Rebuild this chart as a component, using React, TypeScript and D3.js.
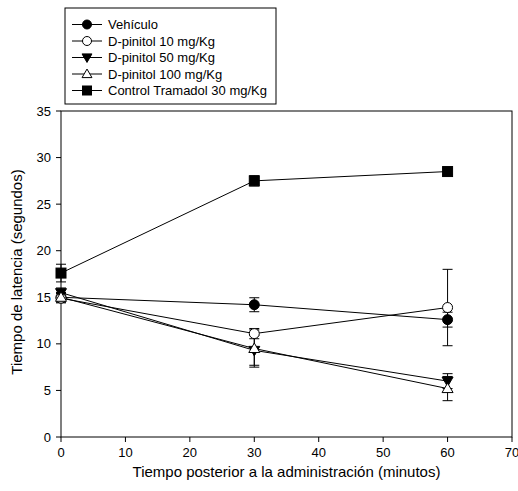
import React from "react";
import * as d3 from "d3";

const times = [0, 30, 60];
const seriesNames = [
  "Vehículo",
  "D-pinitol 10 mg/Kg",
  "D-pinitol 50 mg/Kg",
  "D-pinitol 100 mg/Kg",
  "Control Tramadol 30 mg/Kg",
];
const seriesMarkers = ["circleFilled", "circleOpen", "triDownFilled", "triUpOpen", "squareFilled"];
const vehiculo = [15.0, 14.2, 12.6];
const vehiculoErr = [0.5, 0.75, 0.8];
const pin10 = [14.9, 11.1, 13.9];
const pin10Err = [0.5, 0.55, 4.1];
const pin50 = [15.5, 9.3, 6.0];
const pin50Err = [0.5, 1.6, 0.8];
const pin100 = [15.0, 9.5, 5.2];
const pin100Err = [0.5, 2.0, 1.3];
const tramadol = [17.6, 27.5, 28.5];
const tramadolErr = [0.95, 0.55, 0.3];
const seriesValues = [vehiculo, pin10, pin50, pin100, tramadol];
const seriesErrors = [vehiculoErr, pin10Err, pin50Err, pin100Err, tramadolErr];
const xTicks = [0, 10, 20, 30, 40, 50, 60, 70];
const yTicks = [0, 5, 10, 15, 20, 25, 30, 35];

const FONT = "'Liberation Sans', Arial, sans-serif";

function Marker({ type, x, y, s = 5 }: { type: string; x: number; y: number; s?: number }) {
  if (type === "circleFilled") return <circle cx={x} cy={y} r={s} fill="#000" stroke="#000" strokeWidth={1} />;
  if (type === "circleOpen") return <circle cx={x} cy={y} r={s} fill="#fff" stroke="#000" strokeWidth={1} />;
  if (type === "squareFilled")
    return <rect x={x - s} y={y - s} width={2 * s} height={2 * s} fill="#000" stroke="#000" strokeWidth={1} />;
  if (type === "triDownFilled") {
    const p = `${x - s * 1.1},${y - s * 0.8} ${x + s * 1.1},${y - s * 0.8} ${x},${y + s * 1.1}`;
    return <polygon points={p} fill="#000" stroke="#000" strokeWidth={1} />;
  }
  const p = `${x - s * 1.1},${y + s * 0.8} ${x + s * 1.1},${y + s * 0.8} ${x},${y - s * 1.1}`;
  return <polygon points={p} fill="#fff" stroke="#000" strokeWidth={1} />;
}

export default function App() {
  const W = 518, H = 491;
  const left = 61, right = 512, top = 111, bottom = 437;
  const x = d3.scaleLinear().domain([0, 70]).range([left, right]);
  const y = d3.scaleLinear().domain([0, 35]).range([bottom, top]);
  const line = d3.line<number>().x((_, i) => x(times[i])).y((d) => y(d));
  const drawOrder = [0, 1, 2, 3, 4];
  return (
    <svg width={W} height={H} style={{ position: "absolute", left: 0, top: 0 }} fontFamily={FONT}>
      <rect width={W} height={H} fill="#fff" />
      {/* frame */}
      <rect x={left} y={top} width={right - left} height={bottom - top} fill="none" stroke="#000" strokeWidth={1} />
      {xTicks.map((t) => (
        <g key={"x" + t}>
          <line x1={x(t)} x2={x(t)} y1={bottom} y2={bottom + 5} stroke="#000" />
          <text x={x(t)} y={bottom + 20} fontSize={13} textAnchor="middle" fill="#000">{t}</text>
        </g>
      ))}
      {yTicks.map((t) => (
        <g key={"y" + t}>
          <line x1={left - 5} x2={left} y1={y(t)} y2={y(t)} stroke="#000" />
          <text x={left - 10} y={y(t) + 4.5} fontSize={13} textAnchor="end" fill="#000">{t}</text>
        </g>
      ))}
      <text x={(left + right) / 2 - 0} y={477} fontSize={15} textAnchor="middle" fill="#000">
        Tiempo posterior a la administración (minutos)
      </text>
      <text transform={`translate(22,${272}) rotate(-90)`} fontSize={15} textAnchor="middle" fill="#000">
        Tiempo de latencia (segundos)
      </text>
      {/* lines */}
      {drawOrder.map((si) => (
        <path key={"l" + si} d={line(seriesValues[si]) || ""} fill="none" stroke="#000" strokeWidth={1} />
      ))}
      {/* error bars */}
      {drawOrder.map((si) =>
        seriesValues[si].map((v, i) => {
          const e = seriesErrors[si][i];
          const cx = x(times[i]);
          return (
            <g key={`e${si}-${i}`} stroke="#000" strokeWidth={1}>
              <line x1={cx} x2={cx} y1={y(v - e)} y2={y(v + e)} />
              <line x1={cx - 5} x2={cx + 5} y1={y(v - e)} y2={y(v - e)} />
              <line x1={cx - 5} x2={cx + 5} y1={y(v + e)} y2={y(v + e)} />
            </g>
          );
        })
      )}
      {/* markers */}
      {drawOrder.map((si) =>
        seriesValues[si].map((v, i) => (
          <Marker key={`m${si}-${i}`} type={seriesMarkers[si]} x={x(times[i])} y={y(v)} />
        ))
      )}
      {/* legend */}
      <rect x={65} y={8} width={211} height={96} fill="#fff" stroke="#000" strokeWidth={1} />
      {seriesNames.map((n, i) => {
        const ly = 24.5 + i * 16.5;
        return (
          <g key={"lg" + i}>
            <line x1={72} x2={102} y1={ly} y2={ly} stroke="#000" />
            <Marker type={seriesMarkers[i]} x={87} y={ly} s={4.5} />
            <text x={108} y={ly + 4.5} fontSize={13} fill="#000">{n}</text>
          </g>
        );
      })}
    </svg>
  );
}
